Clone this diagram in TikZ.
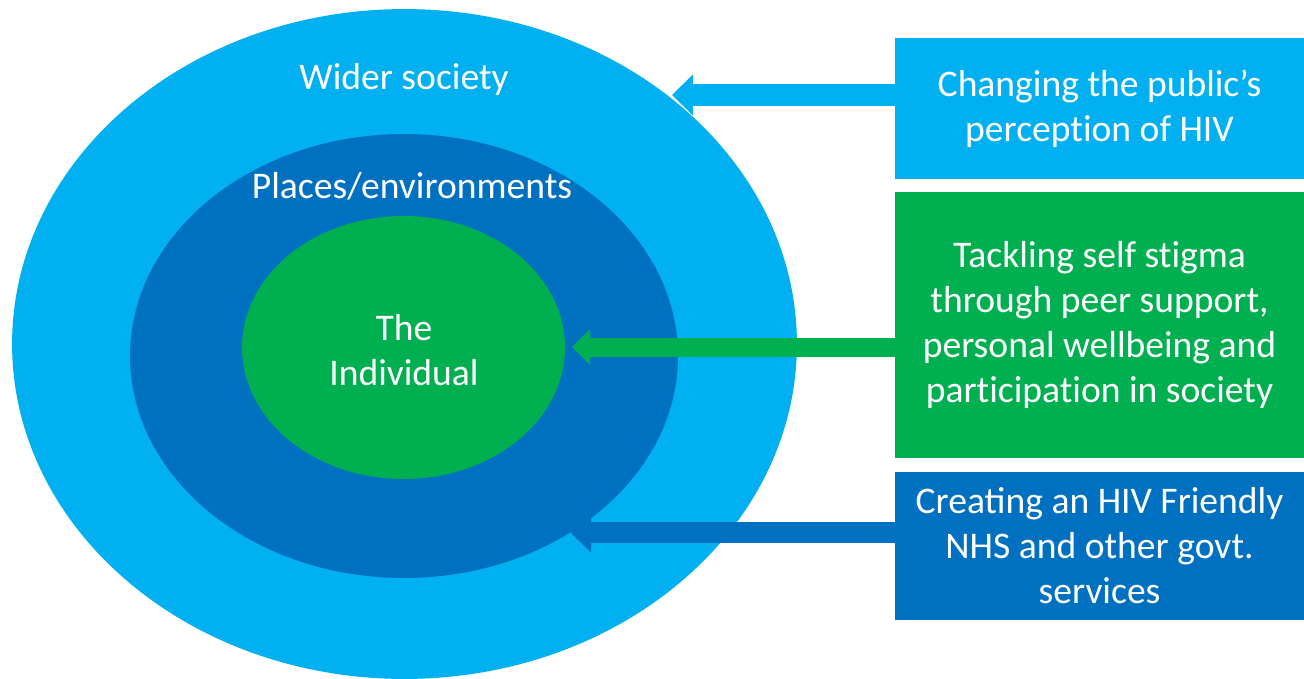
\documentclass[tikz,border=0pt]{standalone}
\usepackage{fontspec}
\setmainfont{Carlito}
\usepackage{tikz}
\usetikzlibrary{arrows.meta,positioning,shapes.geometric}
\definecolor{skyblue}{HTML}{00B0F0}
\definecolor{deepblue}{HTML}{0070C0}
\definecolor{leafgreen}{HTML}{00B050}
\newcommand{\nobind}{\kern0pt }
\tikzset{
    ring/.style = {ellipse, inner sep = 0pt},
    ringlabel/.style = {text = white, align = center, font = \fontsize{21.4}{25.6}\selectfont},
    panel/.style = {rectangle, inner sep = 0pt, minimum width = 8.18cm, text = white, align = center, font = \fontsize{21.4}{25.6}\selectfont}
}

\begin{document}
\begin{tikzpicture}[x=0.02cm, y=-0.02cm]
        \useasboundingbox (0,0) rectangle (1304,679);
        \node (society) at (404.5,344) [ring, fill = skyblue, minimum width = 15.7cm, minimum height = 13.4cm] {};
        \node (places) at (404,356) [ring, fill = deepblue, minimum width = 10.96cm, minimum height = 8.88cm] {};
        \node (individual) at (403.5,347.5) [ring, fill = leafgreen, minimum width = 6.46cm, minimum height = 5.26cm] {};
        \node (societylabel) at (404,79) [ringlabel] {Wider society};
        \node (placeslabel) at (412,186) [ringlabel] {Places/environments};
        \node (individuallabel) at (404,350) [ringlabel] {The\\Individual};
        \node (perception) at (1099.5,108.5) [panel, fill = skyblue, minimum height = 2.82cm] {Changing the public’s\\percept\nobind ion of HIV};
        \node (stigma) at (1099.5,325) [panel, fill = leafgreen, minimum height = 5.32cm] {Tackling self st\nobind igma\\through peer support,\\personal wellbeing and\\part\nobind icipat\nobind ion in society};
        \node (services) at (1099.5,546) [panel, fill = deepblue, minimum height = 2.96cm] {Creating an HIV Friendly\\NHS and other govt.\\services};
        \coordinate (societytip) at (672,95);
        \coordinate (individualtip) at (572,347);
        \coordinate (placestip) at (570,532);
        \path [draw, skyblue, line width = 0.44cm, -{Triangle[length = 0.42cm, width = 0.82cm, line width = 0pt]}] (perception.west |- societytip) -- (societytip);
        \path [draw, leafgreen, line width = 0.38cm, -{Triangle[length = 0.36cm, width = 0.72cm, line width = 0pt]}] (stigma.west |- individualtip) -- (individualtip);
        \path [draw, deepblue, line width = 0.42cm, -{Triangle[length = 0.42cm, width = 0.82cm, line width = 0pt]}] (services.west |- placestip) -- (placestip);
    \end{tikzpicture}
\end{document}
